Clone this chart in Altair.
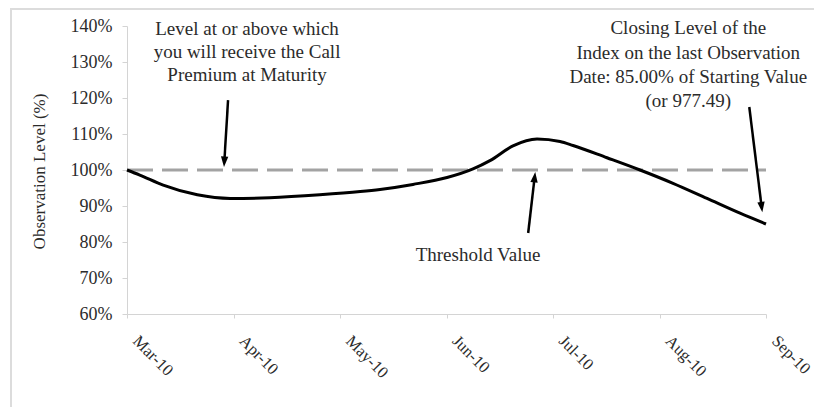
import math
import altair as alt
import pandas as pd

# ---- data ----
month_labels = ["Mar-10", "Apr-10", "May-10", "Jun-10", "Jul-10", "Aug-10", "Sep-10"]
obs_month = [0, 0.12, 0.34, 0.66, 0.97, 1.34, 1.81, 2.19, 2.376, 2.685, 3.005, 3.249,
             3.408, 3.624, 3.85, 4.066, 4.188, 4.507, 4.817, 5.127, 5.446, 5.756, 6.0]
obs_level = [100, 98.6, 95.8, 93.1, 92.1, 92.3, 93.1, 94.0, 94.6, 96.0, 97.9, 100.3,
             102.6, 106.7, 108.6, 107.9, 106.8, 103.4, 100.0, 96.3, 92.1, 88.0, 85.0]
threshold_level = [100]
threshold_span = [0, 6]
y_ticks = [60, 70, 80, 90, 100, 110, 120, 130, 140]

ann_call_lines = ["Level at or above which", "you will receive the Call", "Premium at Maturity"]
ann_call_x = [1.127, 1.127, 1.127]
ann_call_y = [139.3, 132.9, 126.5]

ann_thr_lines = ["Threshold Value"]
ann_thr_x = [3.296]
ann_thr_y = [76.4]

ann_close_lines = ["Closing Level of the", "Index on the last Observation",
                   "Date: 85.00% of Starting Value", "(or 977.49)"]
ann_close_x = [5.27, 5.27, 5.27, 5.27]
ann_close_y = [139.4, 132.6, 125.8, 119.2]

# arrows: start (x, y) -> tip (x, y)
arrow_x0 = [0.949, 3.767, 5.843]
arrow_y0 = [119.4, 82.5, 117.5]
arrow_x1 = [0.911, 3.833, 5.965]
arrow_y1 = [100.9, 99.4, 88.3]

# ---- layout ----
W, H = 639, 288
XD = [0, 6]
YD = [60, 140]
ppx = W / (XD[1] - XD[0])
ppy = H / (YD[1] - YD[0])
FONT = "Liberation Serif"
TXT = "#2b2b2b"

xs = alt.Scale(domain=XD, nice=False, zero=False)
ys = alt.Scale(domain=YD, nice=False, zero=False)

label_expr = "[" + ",".join("'%s'" % m for m in month_labels) + "][datum.value]"

x_axis = alt.Axis(
    values=list(range(len(month_labels))), labelExpr=label_expr, title=None,
    labelAngle=45, labelAlign="left", labelBaseline="middle",
    labelOffset=8, labelPadding=20, tickSize=4, grid=False, labelOverlap=False,
    labelBound=False, labelFlush=False,
    domainColor="#d4d4d4", tickColor="#d4d4d4", labelColor=TXT,
    labelFont=FONT, labelFontSize=16.5)
y_axis = alt.Axis(
    values=y_ticks, labelExpr="datum.value + '%'", title="Observation Level (%)",
    tickSize=5, labelPadding=10, grid=False, labelOverlap=False,
    labelBound=False, labelFlush=False,
    domainColor="#d4d4d4", tickColor="#d4d4d4", labelColor=TXT,
    labelFont=FONT, labelFontSize=18, titleFont=FONT, titleFontSize=17,
    titleFontWeight="normal", titleColor=TXT, titleX=-88, titleY=145,
    titleBaseline="middle")

def X(field="m:Q"):
    return alt.X(field, scale=xs, axis=x_axis)

def Y(field="v:Q"):
    return alt.Y(field, scale=ys, axis=y_axis)

line_df = pd.DataFrame({"m": obs_month, "v": obs_level})
curve = alt.Chart(line_df).mark_line(color="black", strokeWidth=3,
                                     interpolate="monotone").encode(x=X(), y=Y())

thr_df = pd.DataFrame({"m": [threshold_span[0]], "m2": [threshold_span[1]],
                       "v": threshold_level})
thr = alt.Chart(thr_df).mark_rule(color="#a3a3a3", strokeWidth=3,
                                  strokeDash=[26, 9]).encode(
    x=X(), x2="m2:Q", y=Y())

def text_layer(lines, x, y):
    df = pd.DataFrame({"t": lines, "m": x, "v": y})
    return alt.Chart(df).mark_text(font=FONT, fontSize=19, color=TXT,
                                   align="center", baseline="middle").encode(
        x=X(), y=Y(), text="t:N")

# arrow geometry (in data units, via pixel scale factors)
rows_rule, rows_head = [], []
for x0, y0, x1, y1 in zip(arrow_x0, arrow_y0, arrow_x1, arrow_y1):
    dxp = (x1 - x0) * ppx
    dyp = -(y1 - y0) * ppy
    L = math.hypot(dxp, dyp)
    ux, uy = dxp / L, dyp / L
    ang = math.degrees(math.atan2(dxp, -dyp)) % 360
    hx = x1 - ux * 5 / ppx
    hy = y1 + uy * 5 / ppy
    rows_rule.append({"m": x0, "v": y0, "m2": hx, "v2": hy})
    rows_head.append({"m": hx, "v": hy, "a": ang})

rule_df = pd.DataFrame(rows_rule)
head_df = pd.DataFrame(rows_head)

arrows = alt.Chart(rule_df).mark_rule(color="black", strokeWidth=2.5).encode(
    x=X(), y=Y(), x2="m2:Q", y2="v2:Q")
heads = alt.Chart(head_df).mark_point(
    shape="M0,-1L0.7,1L-0.7,1Z", filled=True, color="black", opacity=1, size=110
).encode(x=X(), y=Y(), angle=alt.Angle("a:Q", scale=None))

frame = alt.Chart(pd.DataFrame({"k": [0]})).mark_rect(
    fill=None, stroke="#dcdcdc", strokeWidth=2).encode(
    x=alt.value(-116), x2=alt.value(W + 70), y=alt.value(-17), y2=alt.value(H + 98))

chart = alt.layer(
    frame, thr, curve, arrows, heads,
    text_layer(ann_call_lines, ann_call_x, ann_call_y),
    text_layer(ann_thr_lines, ann_thr_x, ann_thr_y),
    text_layer(ann_close_lines, ann_close_x, ann_close_y),
).properties(
    width=W, height=H, background="white",
    padding={"left": 119, "top": 18, "right": 48, "bottom": 93},
    autosize=alt.AutoSizeParams(type="none"),
).configure_view(stroke=None)

chart.save("out.html", embed_options={"renderer": "svg", "actions": False})
